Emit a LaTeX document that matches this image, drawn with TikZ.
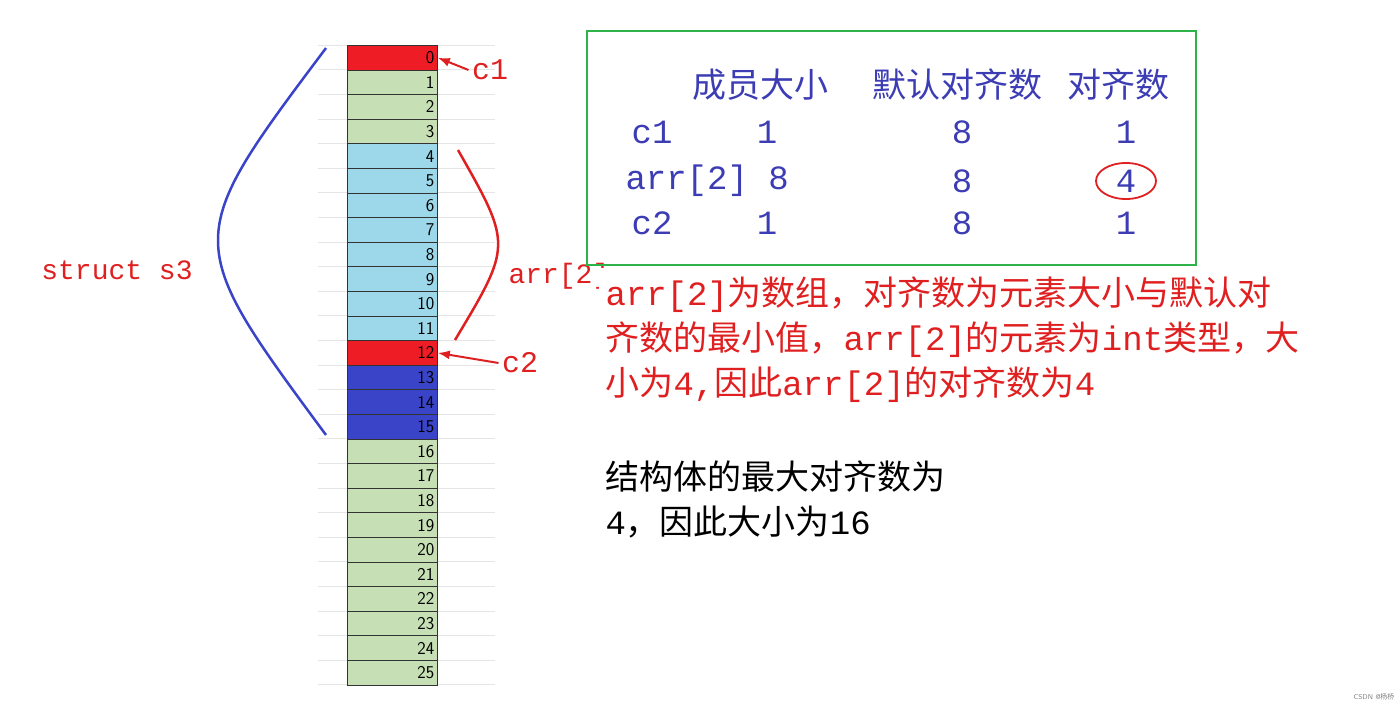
\documentclass[tikz,border=0pt]{standalone}
\usetikzlibrary{arrows.meta}
\usepackage{fontspec}
\setmainfont{Liberation Mono}
\setmonofont{Liberation Mono}
\newfontfamily\cjk{Noto Sans CJK SC}
\definecolor{cred}{HTML}{EE1C24}
\definecolor{cgreen}{HTML}{C6DFB4}
\definecolor{ccyan}{HTML}{9DD8EA}
\definecolor{cblue}{HTML}{3A44C8}
\definecolor{tblue}{HTML}{3C3CB4}
\definecolor{tred}{HTML}{E02020}
\definecolor{frame}{HTML}{2DB34A}
\tikzset{cell/.style={draw=black!80,line width=0.8pt,minimum width=90pt,minimum height=24.6pt,inner sep=2pt,anchor=north west,font=\fontsize{18}{18}\sffamily,align=right,text width=84pt},
tb/.style={text=tblue,font=\fontsize{34}{34}\selectfont},
rp/.style={text=tred,font=\fontsize{34}{34}\selectfont,anchor=west},
bp/.style={text=black,font=\fontsize{34}{34}\selectfont,anchor=west}}
\begin{document}
\begin{tikzpicture}[x=1pt,y=-1pt]
\useasboundingbox (0,0) rectangle (1400,707);
\fill[white] (0,0) rectangle (1400,707);
\foreach \i in {0,...,26} \draw[black!10] (318,{45+\i*24.6}) -- (495,{45+\i*24.6});
\foreach \i in {0,...,25}{
 \ifnum\i=0 \def\cc{cred}\else\ifnum\i<4 \def\cc{cgreen}\else\ifnum\i<12 \def\cc{ccyan}\else\ifnum\i=12 \def\cc{cred}\else\ifnum\i<16 \def\cc{cblue}\else\def\cc{cgreen}\fi\fi\fi\fi\fi
 \node[cell,fill=\cc] (r\i) at (347,{45+\i*24.6}) {\i};
}
\draw[cblue,line width=2.5pt] (326,48) .. controls (182,240) .. (326,435);
\draw[tred,line width=2.5pt] (458,150) .. controls (512,245) .. (455,340);
\node[text=tred,font=\fontsize{28}{28}\ttfamily] (s3) at (117,270) {struct s3};
\node[text=tred,font=\fontsize{28}{28}\ttfamily,anchor=west] (arr) at (505,276) {arr[2]};
\node[text=tred,font=\fontsize{30}{30}\selectfont] (c1) at (490,70) {c1};
\node[text=tred,font=\fontsize{30}{30}\selectfont] (c2) at (520,363) {c2};
\draw[tred,line width=2pt,-{Latex[length=12pt]}] (c1.west) -- (r0.east);
\draw[tred,line width=2pt,-{Latex[length=12pt]}] (c2.west) -- (r12.east);
\fill[white] (599,268) rectangle (1320,410);
\draw[frame,line width=2.5pt] (587,31) rectangle (1196,265);
\node[tb] (h1) at (760,85) {\cjk 成员大小};
\node[tb] (h2) at (957,85) {\cjk 默认对齐数};
\node[tb] (h3) at (1118,85) {\cjk 对齐数};
\node[tb] (a1) at (652,132) {c1};
\node[tb] (a2) at (767,132) {1};
\node[tb] (a3) at (962,132) {8};
\node[tb] (a4) at (1126,132) {1};
\node[tb,anchor=west] (b1) at (622,181) {arr[2] 8};
\node[tb] (b3) at (962,181) {8};
\node[tb] (b4) at (1126,181) {4};
\node[tb] (d1) at (652,223) {c2};
\node[tb] (d2) at (767,223) {1};
\node[tb] (d3) at (962,223) {8};
\node[tb] (d4) at (1126,223) {1};
\draw[tred,line width=1.8pt] (b4) ellipse (30pt and 18pt);
\node[rp] (p1) at (602,295) {arr[2]{\cjk 为数组，对齐数为元素大小与默认对}};
\node[rp] (p2) at (602,340) {{\cjk 齐数的最小值，}arr[2]{\cjk 的元素为}int{\cjk 类型，大}};
\node[rp] (p3) at (602,385) {{\cjk 小为}4,{\cjk 因此}arr[2]{\cjk 的对齐数为}4};
\node[bp] (q1) at (602,477) {\cjk 结构体的最大对齐数为};
\node[bp] (q2) at (602,522) {4{\cjk ，因此大小为}16};
\node[text=black!50,font=\fontsize{7}{7}\sffamily,anchor=east] (w) at (1398,697) {CSDN @\cjk 杨桥};
\end{tikzpicture}
\end{document}
